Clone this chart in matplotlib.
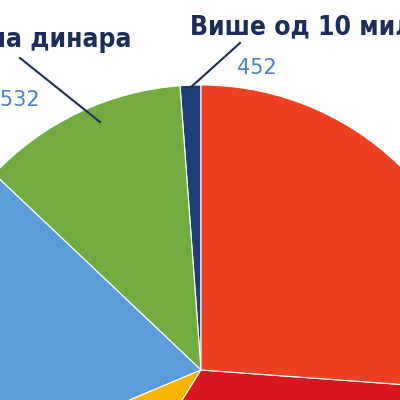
import matplotlib.pyplot as plt

# slices, counterclockwise from 12 o'clock
names = ["Више од 10 милиона динара", "Од 1 до 10 милиона динара", "blue", "yellow", "darkred", "red"]
values = [452, 4532, 7100, 3766, 12622, 10082]
colors = ["#1f3f7a", "#72ab3f", "#5b9bd8", "#f7b500", "#d7161f", "#ee4122"]

fig = plt.figure(figsize=(4, 4), dpi=100)
ax = fig.add_axes([0, 0, 1, 1])

ax.pie(values, colors=colors, startangle=90, counterclock=True,
       center=(201, 30), radius=285, frame=True,
       wedgeprops=dict(edgecolor="white", linewidth=0.8))
ax.set_xlim(0, 400)
ax.set_ylim(0, 400)
ax.set_aspect("equal")
ax.axis("off")

navy = "#1c2d5a"
lbl = "#4a80c9"
ax.text(190, 372, names[0], color=navy, fontsize=19, fontweight="bold",
        fontstretch="condensed", va="center", ha="left")
ax.text(132, 360, names[1], color=navy, fontsize=19, fontweight="bold",
        fontstretch="condensed", va="center", ha="right")
ax.text(237, 332, f"{values[0]}", color=lbl, fontsize=15, va="center", ha="left")
ax.text(40, 300, f"{values[1] // 1000}.{values[1] % 1000}", color=lbl, fontsize=15,
        va="center", ha="right")
ax.plot([240, 190], [357, 312], color=navy, lw=1.5)
ax.plot([20, 100], [342, 278], color=navy, lw=1.5)

fig.savefig("out.png")
plt.close(fig)
